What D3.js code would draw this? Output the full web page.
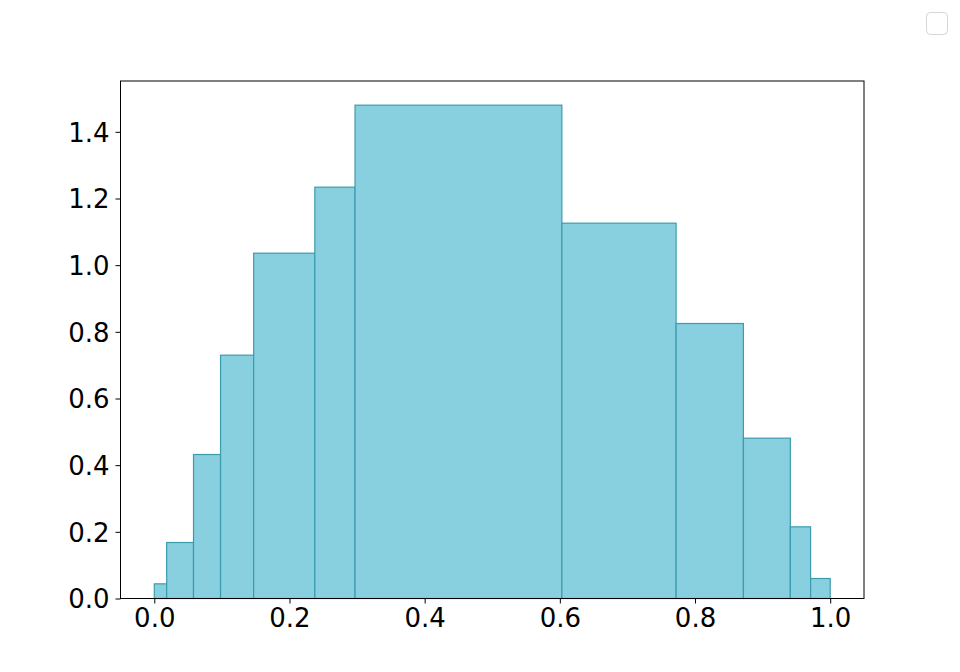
<!DOCTYPE html>
<html><head><meta charset="utf-8">
<script src="https://cdn.jsdelivr.net/npm/d3@7"></script>
<style>body{margin:0;background:#fff}svg{display:block}</style>
</head><body>
<svg id="c" width="960" height="672"></svg>
<script>
const binEdges = [0.0, 0.0183, 0.058, 0.098, 0.147, 0.2375, 0.297, 0.603, 0.772, 0.8716, 0.941, 0.971, 1.0];
const densities = [0.044, 0.168, 0.432, 0.730, 1.036, 1.234, 1.480, 1.126, 0.825, 0.481, 0.215, 0.060];
const xTicks = [0.0, 0.2, 0.4, 0.6, 0.8, 1.0];
const yTicks = [0.0, 0.2, 0.4, 0.6, 0.8, 1.0, 1.2, 1.4];

const svg = d3.select("#c");
const L = 120.5, R = 864, T = 81, B = 598.5;
const x = d3.scaleLinear().domain([-0.05, 1.05]).range([L, R]);
const y = d3.scaleLinear().domain([0, 1.5525]).range([B, T]);

const bins = densities.map((d, i) => ({x0: binEdges[i], x1: binEdges[i + 1], v: d}));
svg.append("g").selectAll("rect").data(bins).join("rect")
  .attr("x", d => x(d.x0)).attr("width", d => x(d.x1) - x(d.x0))
  .attr("y", d => y(d.v)).attr("height", d => y(0) - y(d.v))
  .attr("fill", "#88cfdf").attr("stroke", "#3b9cae").attr("stroke-width", 1.2);

const font = "DejaVu Sans";
const xAxis = svg.append("g").attr("transform", `translate(0,${B})`)
  .call(d3.axisBottom(x).tickValues(xTicks).tickFormat(d3.format(".1f")).tickSize(5).tickPadding(5));
const yAxis = svg.append("g").attr("transform", `translate(${L},0)`)
  .call(d3.axisLeft(y).tickValues(yTicks).tickFormat(d3.format(".1f")).tickSize(5).tickPadding(6));
[xAxis, yAxis].forEach(a => {
  a.select(".domain").remove();
  a.selectAll("line").attr("stroke", "#000").attr("stroke-width", 1);
  a.selectAll("text").attr("font-family", font).attr("font-size", 26).attr("fill", "#000");
});
xAxis.selectAll("text").attr("dy", "0.71em");
yAxis.selectAll("text").attr("dy", "0.36em");

svg.append("rect").attr("x", L).attr("y", T).attr("width", R - L).attr("height", B - T)
  .attr("fill", "none").attr("stroke", "#000").attr("stroke-width", 1);

svg.append("rect").attr("x", 926.5).attr("y", 12.5).attr("width", 21).attr("height", 22)
  .attr("rx", 4).attr("fill", "#fff").attr("stroke", "#d6d6d6").attr("stroke-width", 1);
</script>
</body></html>
